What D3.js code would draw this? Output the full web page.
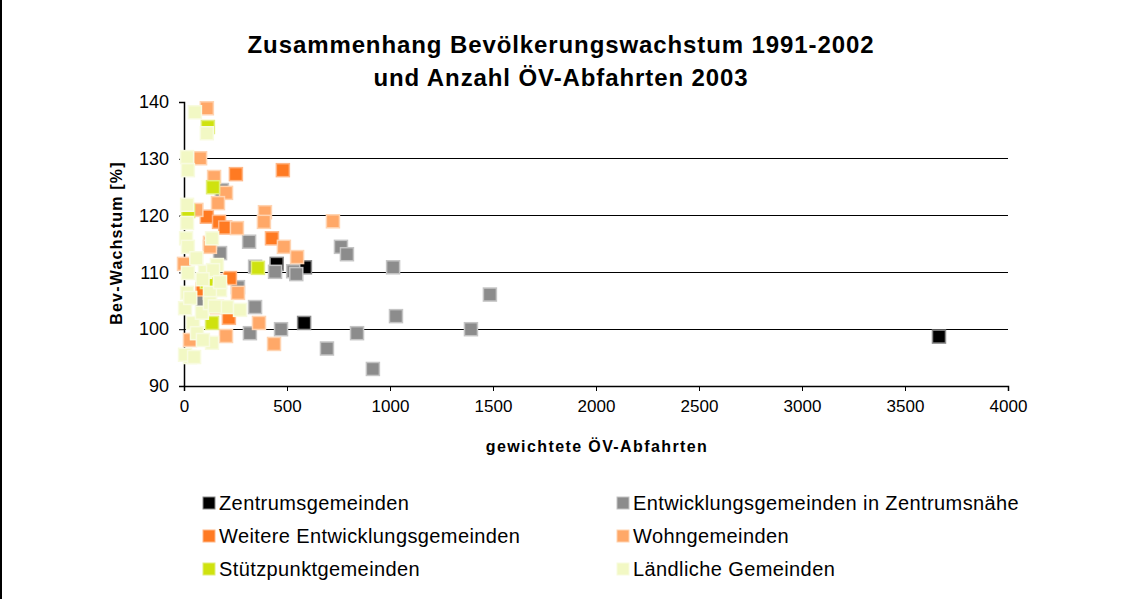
<!DOCTYPE html>
<html><head><meta charset="utf-8">
<script src="https://cdn.jsdelivr.net/npm/d3@7"></script>
<style>
body{margin:0;background:#fff;}
svg{display:block;font-family:"Liberation Sans",Arial,sans-serif;}
</style></head>
<body><svg id="c" width="1122" height="599"></svg>
<script>
const titleLines = ["Zusammenhang Bevölkerungswachstum 1991-2002", "und Anzahl ÖV-Abfahrten 2003"];
const xTicks = [0,500,1000,1500,2000,2500,3000,3500,4000];
const yTicks = [90,100,110,120,130,140];
const seriesNames = ["Zentrumsgemeinden","Entwicklungsgemeinden in Zentrumsnähe","Weitere Entwicklungsgemeinden","Wohngemeinden","Stützpunktgemeinden","Ländliche Gemeinden"];
const seriesFill = ["#000000","#8c8c8c","#ff7a22","#ffa868","#cfe20e","#f2f8c4"];
const seriesStroke = ["#8a8a8a","#c4c4c4","#ffb787","#ffd3b0","#e2ee7a","#f8fbe0"];

const zentrum = [[450,111.5],[587,110.9],[583,101.1],[3665,98.7]];
const entwicklung = [[316,115.4],[442,110.1],[530,110.2],[545,109.7],[345,111.0],[762,114.5],[791,113.2],[1015,110.9],[345,103.9],[320,99.3],[471,100.0],[840,99.3],[1029,102.3],[694,96.6],[1485,106.1],[1393,100.0],[917,93.0],[175,113.4],[262,107.4],[92,104.8],[184,124.5]];
const weitere = [[252,127.3],[480,128.0],[111,119.8],[170,118.9],[427,116.0],[200,117.9],[223,109.0],[160,103.9],[218,102.0],[90,107.0]];
const wohn = [[111,138.9],[78,130.1],[146,126.8],[204,124.0],[165,122.2],[393,120.6],[388,118.9],[723,119.0],[257,117.8],[485,114.5],[126,115.2],[549,112.7],[126,114.5],[262,106.4],[364,101.1],[437,97.4],[204,98.8],[29,98.1],[0,111.5],[60,121.0],[150,108.5]];
const stuetz = [[116,135.6],[141,125.0],[20,120.8],[359,110.8],[136,101.1],[111,108.3]];
const laendlich = [[53,138.2],[111,134.5],[15,130.3],[19,128.0],[15,121.9],[15,118.7],[10,116.0],[136,116.0],[19,114.5],[160,111.3],[102,110.1],[19,109.9],[175,106.9],[15,106.4],[126,106.4],[209,103.9],[272,103.4],[44,101.1],[63,99.3],[136,97.6],[29,95.1],[92,98.1],[5,103.7],[87,102.9],[126,104.6],[141,110.4],[175,108.3],[5,95.5],[49,95.1],[60,112.5],[30,105.5],[90,108.8],[150,104.0]];
const seriesData = [zentrum, entwicklung, weitere, wohn, stuetz, laendlich];

const svg = d3.select("#c");
const x = d3.scaleLinear().domain([0,4000]).range([184,1008]);
const y = d3.scaleLinear().domain([90,140]).range([386,102]);

// frame left border
svg.append("line").attr("x1",1).attr("x2",1).attr("y1",0).attr("y2",599).attr("stroke","#000").attr("stroke-width",2);

// title
svg.append("g").selectAll("text").data(titleLines).join("text")
  .attr("x",561).attr("y",(d,i)=>53+i*33).attr("text-anchor","middle")
  .attr("font-size",24).attr("font-weight","bold").attr("letter-spacing","0.9px").text(d=>d);

// gridlines
svg.append("g").selectAll("line").data(yTicks.filter(v=>v>90 && v<140)).join("line")
  .attr("x1",184).attr("x2",1008).attr("y1",d=>y(d)).attr("y2",d=>y(d))
  .attr("stroke","#000").attr("stroke-width",1).attr("shape-rendering","crispEdges");

// axes
const gx = svg.append("g").attr("transform","translate(0,386)")
  .call(d3.axisBottom(x).tickValues(xTicks).tickSize(5).tickPadding(9).tickFormat(d3.format("d")));
gx.select(".domain").attr("stroke","#000").attr("stroke-width",1.5);
gx.selectAll("line").attr("stroke","#000");
gx.selectAll("text").attr("font-size",17).attr("fill","#000").attr("font-family","Liberation Sans, Arial, sans-serif");

const gy = svg.append("g").attr("transform","translate(184,0)")
  .call(d3.axisLeft(y).tickValues(yTicks).tickSize(5).tickPadding(10));
gy.select(".domain").attr("stroke","#000").attr("stroke-width",1.5);
gy.selectAll("line").attr("stroke","#000");
gy.selectAll("text").attr("font-size",18).attr("fill","#000").attr("font-family","Liberation Sans, Arial, sans-serif");

// axis titles
svg.append("text").attr("x",597).attr("y",452).attr("text-anchor","middle")
  .attr("font-size",16).attr("font-weight","bold").attr("letter-spacing","1.4px").text("gewichtete ÖV-Abfahrten");
svg.append("text").attr("transform","translate(122,243) rotate(-90)").attr("text-anchor","middle")
  .attr("font-size",16).attr("font-weight","bold").attr("letter-spacing","1.2px").text("Bev-Wachstum [%]");

// points
const ms = 13;
seriesData.forEach((data,si)=>{
  svg.append("g").selectAll("rect").data(data).join("rect")
    .attr("x",d=>x(d[0])-ms/2).attr("y",d=>y(d[1])-ms/2)
    .attr("width",ms).attr("height",ms)
    .attr("fill",seriesFill[si]).attr("stroke",seriesStroke[si]).attr("stroke-width",1.5);
});

// legend
const lg = svg.append("g");
seriesNames.forEach((name,i)=>{
  const col = i%2, row = Math.floor(i/2);
  const lx = col===0 ? 203 : 617;
  const ly = 503 + row*33;
  lg.append("rect").attr("x",lx).attr("y",ly-6).attr("width",12).attr("height",12)
    .attr("fill",seriesFill[i]).attr("stroke",seriesStroke[i]).attr("stroke-width",1);
  lg.append("text").attr("x",lx+16).attr("y",ly+7).attr("font-size",20).attr("letter-spacing","0.4px").text(name);
});
</script></body></html>
